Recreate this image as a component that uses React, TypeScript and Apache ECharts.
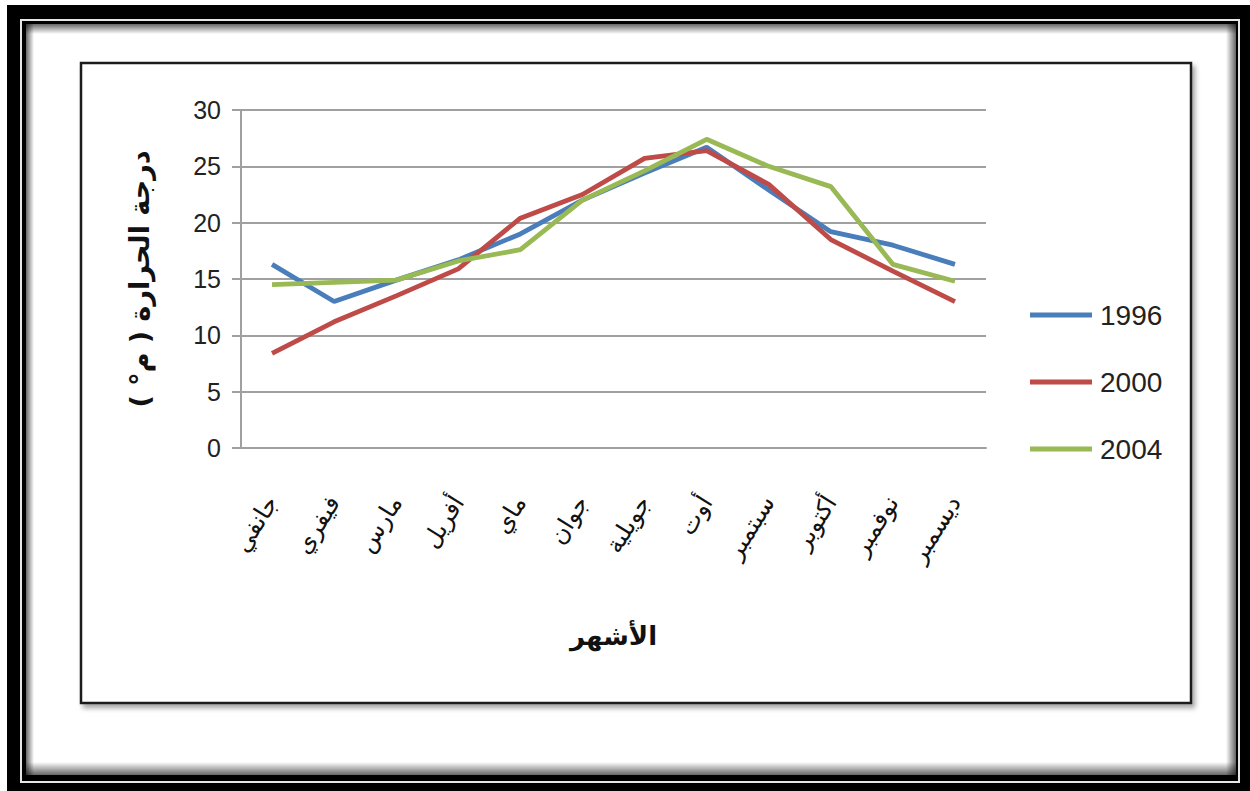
import React, { useEffect, useRef } from "react";
import * as echarts from "echarts";

const months = ["جانفي", "فيفري", "مارس", "أفريل", "ماي", "جوان", "جويلية", "أوت", "سبتمبر", "أكتوبر", "نوفمبر", "ديسمبر"];
const seriesNames = ["1996", "2000", "2004"];
const t1996 = [16.3, 13.0, 14.9, 16.7, 19.0, 22.0, 24.4, 26.7, 22.9, 19.2, 18.0, 16.3];
const t2000 = [8.4, 11.2, 13.5, 15.9, 20.4, 22.5, 25.7, 26.4, 23.4, 18.5, 15.7, 13.0];
const t2004 = [14.5, 14.7, 14.9, 16.6, 17.6, 22.0, 24.6, 27.4, 25.0, 23.2, 16.3, 14.8];
const colors = ["#4A7EBB", "#BE4B48", "#98B954"];
const yTicks = { min: 0, max: 30, interval: 5 };
const yTitle = "درجة الحرارة ( م° )";
const xTitle = "الأشهر";

const ARABIC = "'DejaVu Sans', sans-serif";
const LATIN = "'Liberation Sans', Arial, sans-serif";

function grad(x: number, y: number, x2: number, y2: number, a: number) {
  return {
    type: "linear", x, y, x2, y2,
    colorStops: [
      { offset: 0, color: `rgba(0,0,0,${a})` },
      { offset: 1, color: "rgba(0,0,0,0)" },
    ],
  };
}

export default function App() {
  const ref = useRef<HTMLDivElement>(null);
  useEffect(() => {
    if (!ref.current) return;
    const chart = echarts.init(ref.current, undefined, { renderer: "svg" });
    const data = [t1996, t2000, t2004];
    chart.setOption({
      animation: false,
      backgroundColor: "#ffffff",
      graphic: [
        { type: "rect", z: -20, silent: true, shape: { x: 7, y: 5, width: 1243, height: 786 }, style: { fill: "#000" } },
        { type: "rect", z: -19, silent: true, shape: { x: 21, y: 20, width: 1218, height: 762 }, style: { fill: "none", stroke: "#e6e6e6", lineWidth: 2 } },
        { type: "rect", z: -18, silent: true, shape: { x: 26, y: 24, width: 1210, height: 751 }, style: { fill: "#fff" } },
        { type: "rect", z: -17, silent: true, shape: { x: 26, y: 24, width: 1210, height: 10 }, style: { fill: grad(0, 0, 0, 1, 0.6) } },
        { type: "rect", z: -17, silent: true, shape: { x: 26, y: 24, width: 8, height: 751 }, style: { fill: grad(0, 0, 1, 0, 0.6) } },
        { type: "rect", z: -17, silent: true, shape: { x: 1226, y: 24, width: 10, height: 751 }, style: { fill: grad(1, 0, 0, 0, 0.6) } },
        { type: "rect", z: -17, silent: true, shape: { x: 26, y: 762, width: 1210, height: 13 }, style: { fill: grad(0, 1, 0, 0, 0.6) } },
        {
          type: "rect", z: -16, silent: true,
          shape: { x: 81, y: 63, width: 1110, height: 640 },
          style: { fill: "#fff", stroke: "#1a1a1a", lineWidth: 2.5, shadowBlur: 5, shadowOffsetX: 3, shadowOffsetY: 4, shadowColor: "rgba(0,0,0,0.35)" },
        },
      ],
      grid: { left: 241, right: 264, top: 110, bottom: 343, containLabel: false },
      legend: {
        orient: "vertical",
        left: 1030,
        top: 300,
        padding: 0,
        itemGap: 37,
        itemWidth: 62,
        itemHeight: 5,
        icon: "rect",
        data: seriesNames,
        textStyle: { fontFamily: LATIN, fontSize: 28, color: "#222", lineHeight: 30, padding: [0, 0, 0, 3] },
      },
      xAxis: {
        type: "category",
        data: months,
        boundaryGap: true,
        axisLine: { show: true, lineStyle: { color: "#a0a0a0", width: 2 } },
        axisTick: { show: false },
        axisLabel: { rotate: 58, margin: 50, fontFamily: ARABIC, fontSize: 24, color: "#111", interval: 0 },
        name: xTitle,
        nameLocation: "middle",
        nameGap: 175,
        nameTextStyle: { fontFamily: ARABIC, fontSize: 26, fontWeight: "bold", color: "#111" },
      },
      yAxis: {
        type: "value",
        min: yTicks.min,
        max: yTicks.max,
        interval: yTicks.interval,
        axisLine: { show: true, lineStyle: { color: "#a0a0a0", width: 2 } },
        axisTick: { show: true, inside: false, length: 9, lineStyle: { color: "#a0a0a0", width: 2 } },
        splitLine: { show: true, lineStyle: { color: "#a0a0a0", width: 2 } },
        axisLabel: { margin: 20, fontFamily: LATIN, fontSize: 25, color: "#222" },
        name: yTitle,
        nameLocation: "middle",
        nameRotate: 90,
        nameGap: 88,
        nameTextStyle: { fontFamily: ARABIC, fontSize: 27, fontWeight: "bold", color: "#111" },
      },
      series: seriesNames.map((n, i) => ({
        name: n,
        type: "line",
        data: data[i],
        symbol: "none",
        showSymbol: false,
        lineStyle: { color: colors[i], width: 4.8 },
        itemStyle: { color: colors[i] },
        z: 3 + i,
      })),
    });
    return () => chart.dispose();
  }, []);
  return <div ref={ref} style={{ position: "fixed", left: 0, top: 0, width: 1250, height: 791 }} />;
}
